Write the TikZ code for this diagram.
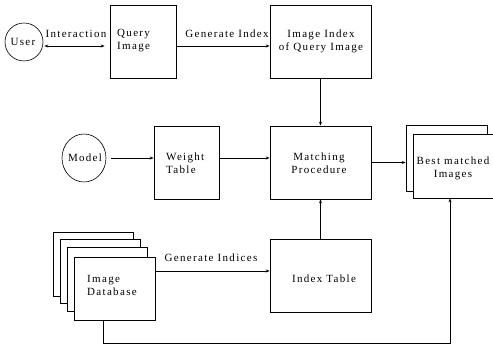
\documentclass[tikz,border=0pt]{standalone}
\usepackage{fontspec}
\setmainfont[LetterSpace=12]{Liberation Serif}
\usetikzlibrary{arrows.meta,shapes.geometric}
\begin{document}
\begin{tikzpicture}[x=1pt,y=-1pt,
  box/.style={draw,line width=0.7pt,inner sep=0,fill=white},
  circ/.style={draw,line width=0.6pt,circle,inner sep=0},
  txt/.style={font=\fontsize{11}{13}\selectfont,inner sep=0},
  conn/.style={line width=0.7pt},
  arr/.style={conn,-{Stealth[length=4pt,width=3pt]}}]
\useasboundingbox (0,0) rectangle (493,347);
% circles
\node[circ,minimum size=38pt] (user) at (24,42) {};
\node[txt] (usert) at (23,42) {User};
\node[draw,line width=0.6pt,ellipse,inner sep=0,minimum width=44pt,minimum height=48pt] (model) at (84,158) {};
\node[txt] (modelt) at (85,158) {Model};
% boxes
\node[box,minimum width=66pt,minimum height=73pt] (qi) at (143,41.5) {};
\node[txt,align=left,anchor=west] (qit) at (117,41) {Query\\Image};
\node[box,minimum width=101pt,minimum height=73pt] (ii) at (320.5,41.5) {};
\node[txt,align=center] (iit) at (321,41) {Image Index\\of Query Image};
\node[box,minimum width=65pt,minimum height=73pt] (wt) at (186.5,162.5) {};
\node[txt,align=left,anchor=west] (wtt) at (166,163) {Weight\\Table};
\node[box,minimum width=101pt,minimum height=73pt] (mp) at (320.5,162.5) {};
\node[txt,align=center] (mpt) at (319,163) {Matching\\Procedure};
\node[box,minimum width=81pt,minimum height=66pt] (bm2) at (446.5,158) {};
\node[box,minimum width=80pt,minimum height=64pt] (bm) at (453,166) {};
\node[txt,align=center] (bmt) at (453,168) {Best matched\\Images};
\node[box,minimum width=101pt,minimum height=73pt] (it) at (320.5,275.5) {};
\node[txt] (itt) at (324,279) {Index Table};
% database stack
\node[box,minimum width=80pt,minimum height=64pt] (db1) at (93,264) {};
\node[box,minimum width=80pt,minimum height=64pt] (db2) at (100,271) {};
\node[box,minimum width=80pt,minimum height=64pt] (db3) at (107,279) {};
\node[box,minimum width=81pt,minimum height=63pt] (db) at (114.5,288.5) {};
\node[txt,align=left,anchor=west] (dbt) at (87,285) {Image\\Database};
% connectors
\coordinate (yq) at (0,46);
\coordinate (ym) at (0,158);
\coordinate (yg) at (0,271);
\coordinate (c1) at (103,343);
\coordinate (c2) at (450,343);
\draw[conn,{Stealth[length=4pt,width=3pt]}-{Stealth[length=4pt,width=3pt]}] (user.east |- yq) ++(1,0) -- ([xshift=-5pt]qi.west |- yq);
\node[txt] (lint) at (76,34) {Interaction};
\draw[arr] (qi.east |- yq) -- (ii.west |- yq);
\node[txt] (lgi) at (227,34) {Generate Index};
\draw[arr] (ii.south) -- (mp.north);
\draw[arr] ([xshift=5pt]model.east) -- (wt.west |- ym);
\draw[arr] (wt.east |- ym) -- (mp.west |- ym);
\draw[arr] (mp.east) -- (mp.east -| bm2.west);
\draw[arr] (it.north) -- (mp.south);
\draw[arr] (db.east |- yg) -- (it.west |- yg);
\node[txt] (lgd) at (211,258) {Generate Indices};
\draw[arr] (c1 |- db.south) -- (c1) -- (c2) -- (c2 |- bm.south);
\end{tikzpicture}
\end{document}
